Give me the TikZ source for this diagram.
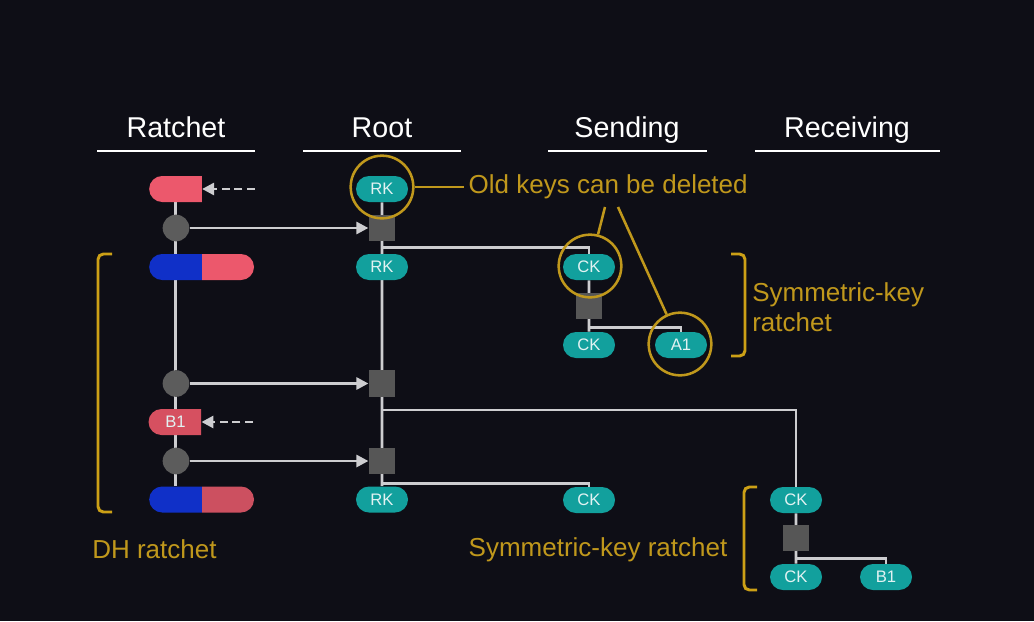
\documentclass[tikz,border=0pt]{standalone}
\usepackage{fontspec}
\setmainfont{Liberation Sans}
\usetikzlibrary{shapes.misc,arrows.meta}
\pgfdeclarelayer{bgfill}
\pgfdeclarelayer{wires}
\pgfsetlayers{bgfill,wires,main}
\definecolor{bgc}{RGB}{14,14,22}
\definecolor{teal0}{RGB}{18,160,157}
\definecolor{pilltxt}{RGB}{225,242,242}
\definecolor{redA}{RGB}{236,88,108}
\definecolor{redB}{RGB}{214,80,96}
\definecolor{redC}{RGB}{204,80,96}
\definecolor{blueA}{RGB}{16,48,200}
\definecolor{dotg}{RGB}{92,92,92}
\definecolor{sqg}{RGB}{86,86,86}
\definecolor{wire}{RGB}{205,205,208}
\definecolor{gold}{RGB}{192,152,28}
\definecolor{goldb}{RGB}{204,160,22}
\begin{document}
\begin{tikzpicture}[x=0.75pt,y=-0.75pt,
  hdr/.style={text=white,font=\fontsize{21.5}{24}\selectfont,inner sep=0,anchor=base},
  uline/.style={draw=white,line width=2.2pt},
  pill/.style={rounded rectangle,fill=teal0,text=pilltxt,minimum width=39pt,minimum height=19.5pt,inner sep=0,font=\fontsize{12.5}{14}\selectfont},
  halfl/.style={rounded rectangle,rounded rectangle right arc=none,minimum width=39.5pt,minimum height=19.5pt,inner sep=0,text=pilltxt,font=\fontsize{12.5}{14}\selectfont},
  halfr/.style={rounded rectangle,rounded rectangle left arc=none,minimum width=39pt,minimum height=19.5pt,inner sep=0},
  sq/.style={rectangle,fill=sqg,minimum size=20pt,inner sep=0},
  dot/.style={circle,fill=dotg,minimum size=20pt,inner sep=0},
  ring/.style={circle,draw=gold,line width=1.9pt,minimum size=47pt,inner sep=0},
  conn/.style={draw=wire,line width=1.9pt},
  arr/.style={draw=wire,line width=2.1pt,-{Triangle[length=9pt,width=9pt]}},
  dasharr/.style={draw=wire,line width=2.1pt,dash pattern=on 6pt off 3.5pt,-{Triangle[length=9pt,width=9pt]}},
  glabel/.style={text=gold,font=\fontsize{19.5}{22.5}\selectfont},
  gline/.style={draw=gold,line width=1.9pt},
  brk/.style={draw=goldb,line width=2.2pt,rounded corners=4pt}
]
\useasboundingbox (0,0) rectangle (1034,621);
\begin{pgfonlayer}{bgfill}
\fill[bgc] (0,0) rectangle (1034,621);
\end{pgfonlayer}

% headers
\node[hdr] (h1) at (176,137) {Ratchet};
\node[hdr] (h2) at (382,137) {Root};
\node[hdr] (h3) at (627,137) {Sending};
\node[hdr] (h4) at (847,137) {Receiving};
\draw[uline] (97,151) -- (255,151);
\draw[uline] (303,151) -- (461,151);
\draw[uline] (548,151) -- (707,151);
\draw[uline] (755,151) -- (940,151);

% ratchet column
\node[halfl,fill=redA] (r0) at (175.5,189) {};
\node[dot] (c1) at (176,228) {};
\node[halfl,fill=blueA] (bl1) at (175.5,267) {};
\node[halfr,fill=redA] (rr1) at (228,267) {};
\node[dot] (c2) at (176,383.5) {};
\node[halfl,fill=redB] (b1) at (175.5,422) {B1};
\node[dot] (c3) at (176,461) {};
\node[halfl,fill=blueA] (bl2) at (175.5,499.5) {};
\node[halfr,fill=redC] (rr2) at (228,499.5) {};
\coordinate (d1) at (255,189);
\coordinate (d2) at (253,422);

% root column
\node[pill] (rk0) at (382,189) {RK};
\node[sq] (s1) at (382,228) {};
\node[pill] (rk1) at (382,267) {RK};
\node[sq] (s2) at (382,383.5) {};
\node[sq] (s3) at (382,461) {};
\node[pill] (rk2) at (382,499.5) {RK};

% sending
\node[pill] (ck1) at (589,267) {CK};
\node[sq] (ss1) at (589,306) {};
\node[pill] (ck2) at (589,345) {CK};
\node[pill] (a1) at (681,345) {A1};
\node[pill] (ck3) at (589,500) {CK};

% receiving
\node[pill] (rck1) at (796,500) {CK};
\node[sq] (rs1) at (796,538) {};
\node[pill] (rck2) at (796,577) {CK};
\node[pill] (b1r) at (886,577) {B1};

% annotations
\node[ring] (o1) at (382,187) {};
\node[ring] (o2) at (590,266) {};
\node[ring] (o3) at (680,344) {};
\node[glabel,anchor=west] (t1) at (464,187) {Old keys can be deleted};
\coordinate (k1) at (605,207);
\coordinate (k2) at (618,207);
\draw[gline] (o1.east) -- (o1.east -| t1.west);
\draw[gline] (k1) -- (o2);
\draw[gline] (k2) -- (o3);

\node[glabel,anchor=west,align=left,inner sep=0] (t2) at (752,307) {Symmetric-key\\ratchet};
\node[glabel,anchor=west,inner sep=0] (t3) at (92,549) {DH ratchet};
\node[glabel,inner sep=0] (t4) at (598,550) {Symmetric-key ratchet};

% brackets
\draw[brk] (731,254) -- (745,254) -- (745,356) -- (731,356);
\draw[brk] (112,254) -- (98,254) -- (98,512) -- (112,512);
\draw[brk] (757,487) -- (744,487) -- (744,590) -- (757,590);

% wires
\begin{pgfonlayer}{wires}
\draw[conn] (r0) -- (bl2);
\draw[conn] (rk0) -- (rk2);
\draw[conn] (s1.south) ++(0,6) -| (ck1.north);
\draw[conn] (s2.south) ++(0,13) -| (rck1.north);
\draw[conn] (s3.south) ++(0,9) -| (ck3.north);
\draw[conn] (ck1) -- (ck2);
\draw[conn] (ss1.south) ++(0,8) -| (a1.north);
\draw[conn] (rck1) -- (rck2);
\draw[conn] (rs1.south) ++(0,7) -| (b1r.north);
\end{pgfonlayer}
\draw[arr] (c1) -- (s1);
\draw[arr] (c2) -- (s2);
\draw[arr] (c3) -- (s3);
\draw[dasharr] (d1) -- (r0.east);
\draw[dasharr] (d2) -- (b1.east);
\end{tikzpicture}
\end{document}
